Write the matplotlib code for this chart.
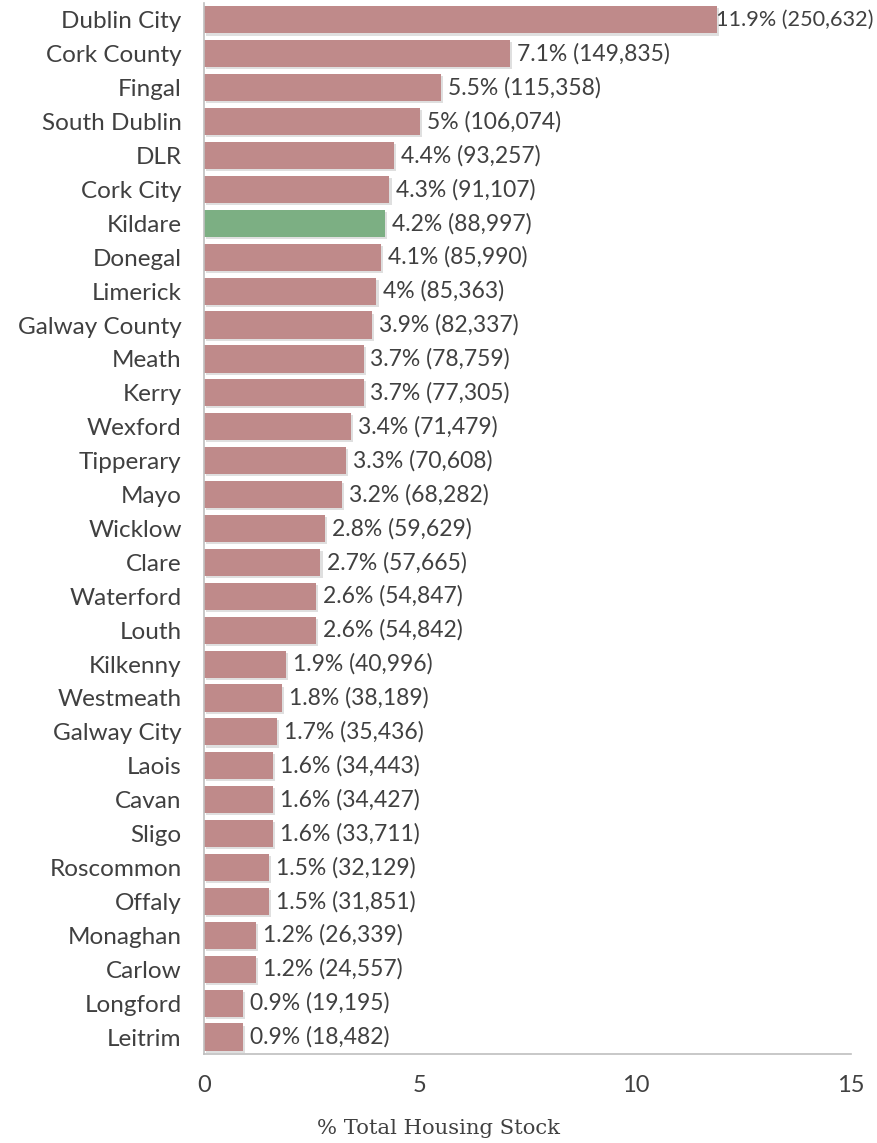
import matplotlib
matplotlib.use("Agg")
import matplotlib.pyplot as plt
import matplotlib.patheffects as pe

# Housing stock by local authority area
areas = ["Dublin City", "Cork County", "Fingal", "South Dublin", "DLR", "Cork City",
         "Kildare", "Donegal", "Limerick", "Galway County", "Meath", "Kerry",
         "Wexford", "Tipperary", "Mayo", "Wicklow", "Clare", "Waterford", "Louth",
         "Kilkenny", "Westmeath", "Galway City", "Laois", "Cavan", "Sligo",
         "Roscommon", "Offaly", "Monaghan", "Carlow", "Longford", "Leitrim"]
pct = [11.9, 7.1, 5.5, 5.0, 4.4, 4.3, 4.2, 4.1, 4.0, 3.9, 3.7, 3.7, 3.4, 3.3,
       3.2, 2.8, 2.7, 2.6, 2.6, 1.9, 1.8, 1.7, 1.6, 1.6, 1.6, 1.5, 1.5, 1.2,
       1.2, 0.9, 0.9]
units = [250632, 149835, 115358, 106074, 93257, 91107, 88997, 85990, 85363,
         82337, 78759, 77305, 71479, 70608, 68282, 59629, 57665, 54847, 54842,
         40996, 38189, 35436, 34443, 34427, 33711, 32129, 31851, 26339, 24557,
         19195, 18482]
highlight = "Kildare"
xticks = [0, 5, 10, 15]

bar_col = "#bf8a8a"
hi_col = "#7caf83"
txt_col = "#404040"
grey = "#bfbfbf"

plt.rcParams["font.family"] = ["Lato", "DejaVu Sans"]

fig = plt.figure(figsize=(8.78, 11.43), dpi=100)
ax = fig.add_axes([0.2323, 0.0779, 0.7369, 0.9195])

ypos = list(range(len(areas)))
colors = [hi_col if a == highlight else bar_col for a in areas]
bars = ax.barh(ypos, pct, height=0.8, color=colors, zorder=2)
for b in bars:
    b.set_path_effects([pe.SimplePatchShadow(offset=(1.5, -1.5), shadow_rgbFace="#b0b0b0", alpha=0.4),
                        pe.Normal()])

for i, (p, u) in enumerate(zip(pct, units)):
    label = f"{p:g}% ({u:,})"
    # the longest bar leaves little room, so its label hugs the bar end
    off, size = (-1, 15.6) if i == 0 else (5, 16.5)
    ax.annotate(label, (p, i), xytext=(off, 0), textcoords="offset points",
                va="center", ha="left", fontsize=size, color=txt_col,
                annotation_clip=False)

ax.set_ylim(len(areas) - 0.5, -0.5)
ax.set_xlim(0, 15)
ax.set_yticks(ypos)
ax.set_yticklabels(areas, fontsize=17.5, color=txt_col)
ax.set_xticks(xticks)
ax.set_xticklabels([str(t) for t in xticks], fontsize=17, color=txt_col)
ax.tick_params(axis="both", length=0)
ax.tick_params(axis="x", pad=15)
ax.tick_params(axis="y", pad=16)

for side in ["top", "right"]:
    ax.spines[side].set_visible(False)
ax.spines["left"].set_color(grey)
ax.spines["bottom"].set_color(grey)
ax.spines["left"].set_linewidth(1.2)
ax.spines["bottom"].set_linewidth(1.2)

# axis title sits centred on the figure rather than on the axes
fig.text(0.5, 1 - 1129 / 1143, "% Total Housing Stock", fontsize=15.2, color=txt_col,
         family=["DejaVu Serif Condensed", "DejaVu Serif"], ha="center", va="center")

fig.savefig("out.png", dpi=100)
